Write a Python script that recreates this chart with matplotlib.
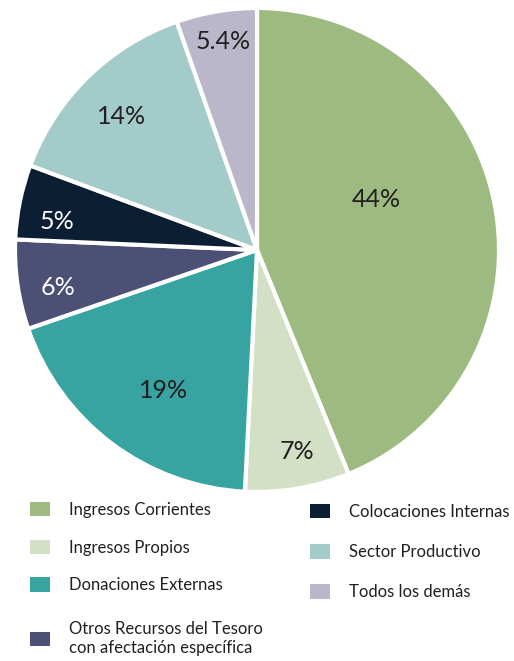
import matplotlib
matplotlib.use("Agg")
import matplotlib.pyplot as plt
from matplotlib.patches import Patch

categories = ["Ingresos Corrientes", "Ingresos Propios", "Donaciones Externas",
              "Otros Recursos del Tesoro\ncon afectación específica",
              "Colocaciones Internas", "Sector Productivo", "Todos los demás"]
values = [44, 7, 19, 6, 5, 14, 5.4]
value_labels = ["44%", "7%", "19%", "6%", "5%", "14%", "5.4%"]
colors = ["#9DBA80", "#D3E0C5", "#37A4A2", "#4D5075", "#0B1E33", "#A2CBCA", "#B9B7C9"]
label_colors = ["#231F20", "#231F20", "#231F20", "#FFFFFF", "#FFFFFF", "#231F20", "#231F20"]
label_pos = [(0.492, 0.207), (0.165, -0.831), (-0.388, -0.579), (-0.822, -0.153),
             (-0.826, 0.116), (-0.558, 0.550), (-0.140, 0.860)]

plt.rcParams['font.family'] = ['Lato', 'DejaVu Sans']

W, H = 514, 661
fig = plt.figure(figsize=(W / 100, H / 100), dpi=100)
cx, cy, r = 257, 250, 242
ax = fig.add_axes([(cx - r) / W, (H - cy - r) / H, 2 * r / W, 2 * r / H])
ax.pie(values, colors=colors, startangle=90, counterclock=False, radius=1,
       wedgeprops=dict(edgecolor="white", linewidth=3))
ax.set_xlim(-1, 1)
ax.set_ylim(-1, 1)
ax.set_aspect("equal")
ax.axis("off")

for lab, (x, y), c in zip(value_labels, label_pos, label_colors):
    ax.text(x, y, lab, ha="center", va="center", fontsize=18, color=c)

fs = 12
def make_legend(idx, x_px, y_px, spacing):
    handles = [Patch(facecolor=colors[i], edgecolor="none") for i in idx]
    labels = [categories[i] for i in idx]
    leg = fig.legend(handles, labels, loc="upper left",
                     bbox_to_anchor=(x_px / W, 1 - y_px / H),
                     frameon=False, fontsize=fs, handlelength=1.2, handleheight=0.95,
                     handletextpad=1.15, labelspacing=spacing, borderpad=0,
                     borderaxespad=0, labelcolor="#231F20")
    return leg

make_legend([0, 1, 2], 30, 502, 1.3)
make_legend([3], 30, 621, 1.3)
make_legend([4, 5, 6], 310, 504, 1.45)

fig.savefig("out.png", dpi=100, facecolor="white")
